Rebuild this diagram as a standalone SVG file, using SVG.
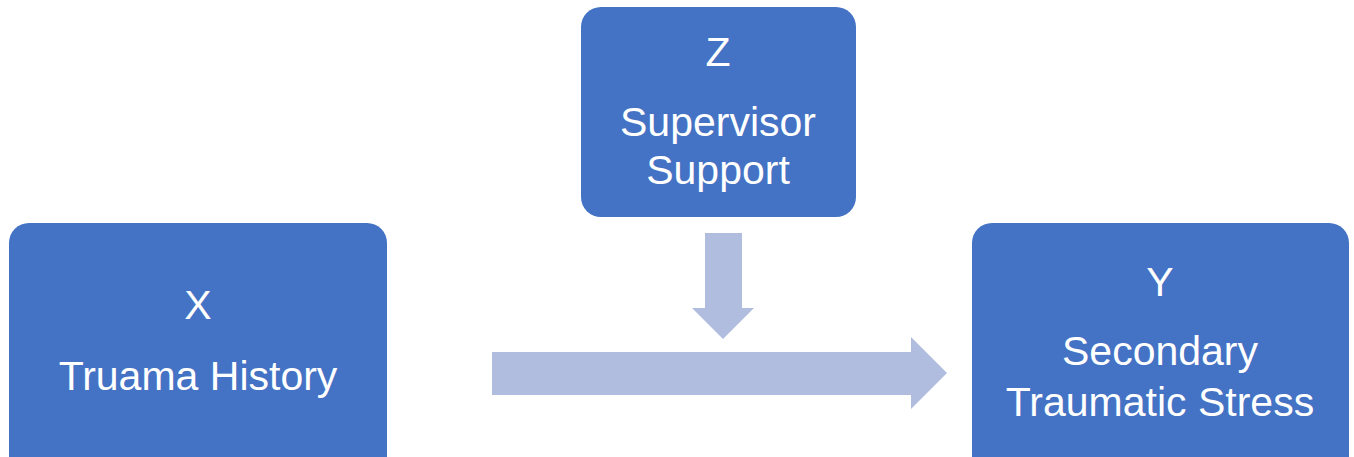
<svg xmlns="http://www.w3.org/2000/svg" width="1354" height="457" viewBox="0 0 1354 457">
<style>
.box{fill:#4472C4;}
.arr{fill:#B0BDDF;}
text{font-family:"Liberation Sans",Arial,sans-serif;font-size:41px;fill:#FFFFFF;text-anchor:middle;}
</style>
<rect width="1354" height="457" fill="#FFFFFF"/>
<g id="connectors">
<polygon class="arr" points="705,233 742,233 742,308 754,308 723,339 692,308 705,308"/>
<polygon class="arr" points="492,352 911,352 911,337 947,373 911,409 911,395 492,395"/>
</g>
<g id="node-z">
<rect class="box" x="581" y="7" width="275" height="210" rx="20" ry="20"/>
<text x="718" y="66">Z</text>
<text x="718" y="136">Supervisor</text>
<text x="718" y="184">Support</text>
</g>
<g id="node-x">
<rect class="box" x="9" y="223" width="378" height="260" rx="20" ry="20"/>
<text x="198" y="319">X</text>
<text x="198" y="390">Truama History</text>
</g>
<g id="node-y">
<rect class="box" x="972" y="223" width="377" height="260" rx="20" ry="20"/>
<text x="1160" y="296">Y</text>
<text x="1160" y="365">Secondary</text>
<text x="1160" y="416">Traumatic Stress</text>
</g>
</svg>
